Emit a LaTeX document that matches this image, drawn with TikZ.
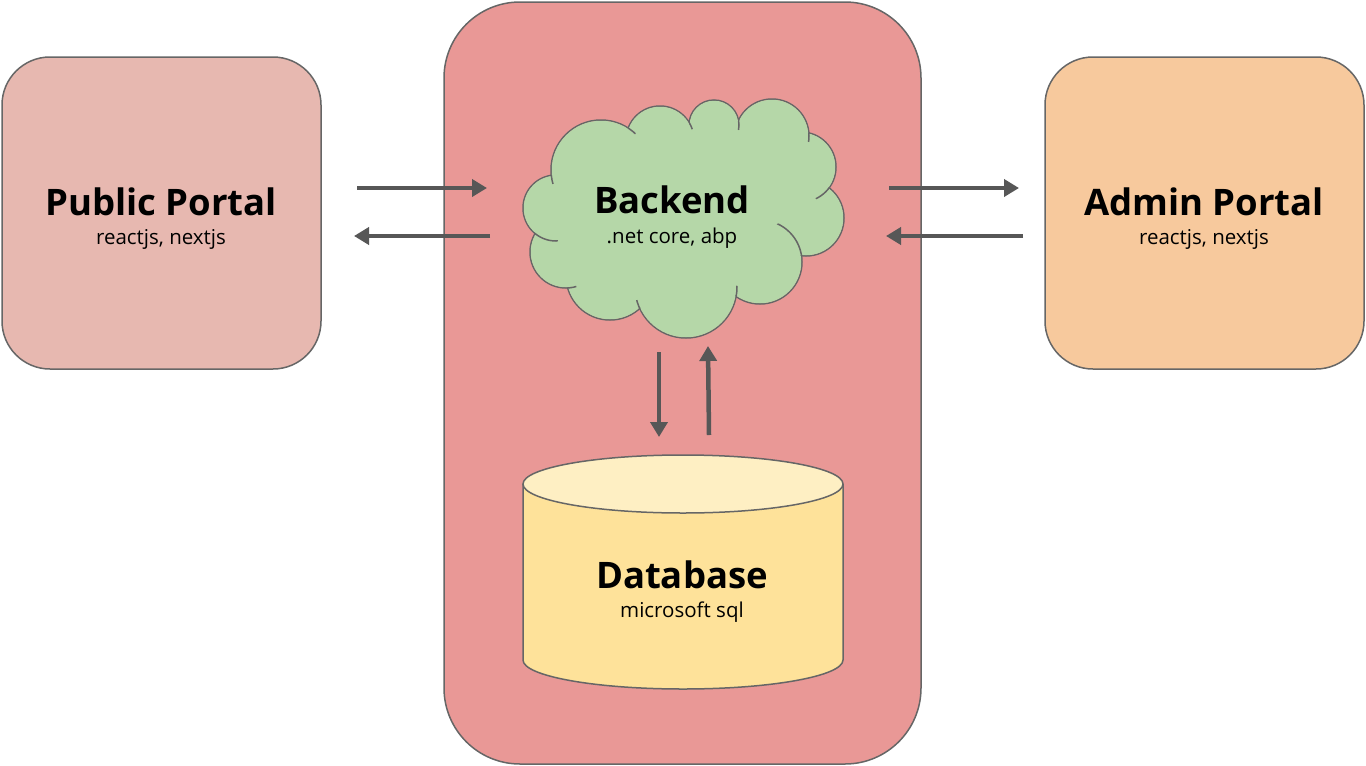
\documentclass[tikz,border=0pt]{standalone}
\usepackage{fontspec}
\setmainfont{Open Sans}
\usetikzlibrary{arrows.meta}
\definecolor{edgegray}{RGB}{102,102,102}
\definecolor{arrowgray}{RGB}{87,87,87}
\definecolor{pubfill}{RGB}{231,184,176}
\definecolor{adminfill}{RGB}{247,201,157}
\definecolor{contfill}{RGB}{233,152,150}
\definecolor{cloudfill}{RGB}{181,215,168}
\definecolor{dbbody}{RGB}{254,226,154}
\definecolor{dbtop}{RGB}{254,239,195}
\begin{document}
\begin{tikzpicture}[x=1pt,y=-1pt,
  box/.style={draw=edgegray, line width=1.5pt, inner sep=0pt},
  flow/.style={draw=arrowgray, line width=4.5pt, -{Triangle[length=15pt,width=17pt]}},
  ttl/.style={font=\bfseries\fontsize{36.5}{42}\selectfont, anchor=base, inner sep=0pt},
  sub/.style={font=\fontsize{20.5}{24}\selectfont, anchor=base, inner sep=0pt},
  dbline/.style={draw=edgegray, line width=1.5pt},
  cloudline/.style={draw=edgegray, line width=1.5pt}]
\useasboundingbox (0,0) rectangle (1366,766);
\fill[white] (0,0) rectangle (1366,766);
% container
\node[box, fill=contfill, rounded corners=76pt, minimum width=477pt, minimum height=762pt] (cont) at (682.5,383) {};
% portals
\node[box, fill=pubfill, rounded corners=48pt, minimum width=319pt, minimum height=312pt] (pub) at (161.5,213) {};
\node[box, fill=adminfill, rounded corners=48pt, minimum width=319pt, minimum height=312pt] (adm) at (1204.5,213) {};
% cloud: union of puffs
\def\puffs{601/170/50, 660/140/34, 714/125/25, 772/136/37, 801/167/35, 806/218/38, 760/262/42, 686/287/51, 610/276/44, 566/252/36, 556/208/33}
\foreach \cx/\cy/\r in \puffs {\draw[cloudline] (\cx,\cy) circle[radius=\r];}
\foreach \cx/\cy/\r in \puffs {\fill[cloudfill] (\cx,\cy) circle[radius=\r-0.75];}
\fill[cloudfill] (601,170) -- (660,140) -- (714,125) -- (772,136) -- (801,167) -- (806,218) -- (760,262) -- (686,287) -- (610,276) -- (566,252) -- (556,208) -- cycle;
% hooks: circle drawn / clip circle / junction / reach
\foreach \ax/\ay/\ar/\bx/\by/\br/\jx/\jy/\jr in {
  601/170/50/556/208/33/551.3/175.3/9,
  601/170/50/660/140/34/627/127/11,
  660/140/34/714/125/25/689/122/8,
  714/125/25/772/136/37/738.5/120/10,
  772/136/37/801/167/35/809/133/9,
  801/167/35/806/218/38/829/188/17,
  760/262/42/806/218/38/801.5/255.7/40,
  686/287/51/760/262/42/736/296.6/11,
  686/287/51/610/276/44/639.7/308.5/9,
  566/252/36/610/276/44/567.6/288/9,
  556/208/33/566/252/36/535/233.5/24}
  {\begin{scope}
     \clip (\jx,\jy) circle[radius=\jr];
     \clip (\bx,\by) circle[radius=\br];
     \draw[cloudline] (\ax,\ay) circle[radius=\ar];
   \end{scope}}
\node[inner sep=0pt, minimum width=320pt, minimum height=236pt] (backend) at (683,218) {};
% database
\node[inner sep=0pt, minimum width=320pt, minimum height=234pt] (db) at (683,572) {};
\draw[dbline, fill=dbbody] (523,484) -- (523,660) arc[start angle=180, end angle=0, x radius=160, y radius=29] -- (843,484);
\draw[dbline, fill=dbtop] (683,484) ellipse[x radius=160, y radius=29];
% texts
\node[ttl] (pubt) at (161,215) {Public Portal};
\node[sub] (pubs) at (161,244) {reactjs, nextjs};
\node[ttl] (admt) at (1204,215) {Admin Portal};
\node[sub] (adms) at (1204,244) {reactjs, nextjs};
\node[ttl] (bet) at (672,213) {Backend};
\node[sub] (bes) at (672,243) {.net core, abp};
\node[ttl] (dbt) at (682,588) {Database};
\node[sub] (dbs) at (682,617) {microsoft sql};
% arrows
\coordinate (pa1) at (357,188); \coordinate (pa2) at (487,188);
\coordinate (pb1) at (490,236); \coordinate (pb2) at (354,236);
\coordinate (aa1) at (889,188); \coordinate (aa2) at (1019,188);
\coordinate (ab1) at (1023,236); \coordinate (ab2) at (886,236);
\coordinate (da1) at (659,352); \coordinate (da2) at (659,437);
\coordinate (ua1) at (709,435); \coordinate (ua2) at (708,346);
\draw[flow] (pa1) -- (pa2);
\draw[flow] (pb1) -- (pb2);
\draw[flow] (aa1) -- (aa2);
\draw[flow] (ab1) -- (ab2);
\draw[flow] (da1) -- (da2);
\draw[flow] (ua1) -- (ua2);
\end{tikzpicture}
\end{document}
